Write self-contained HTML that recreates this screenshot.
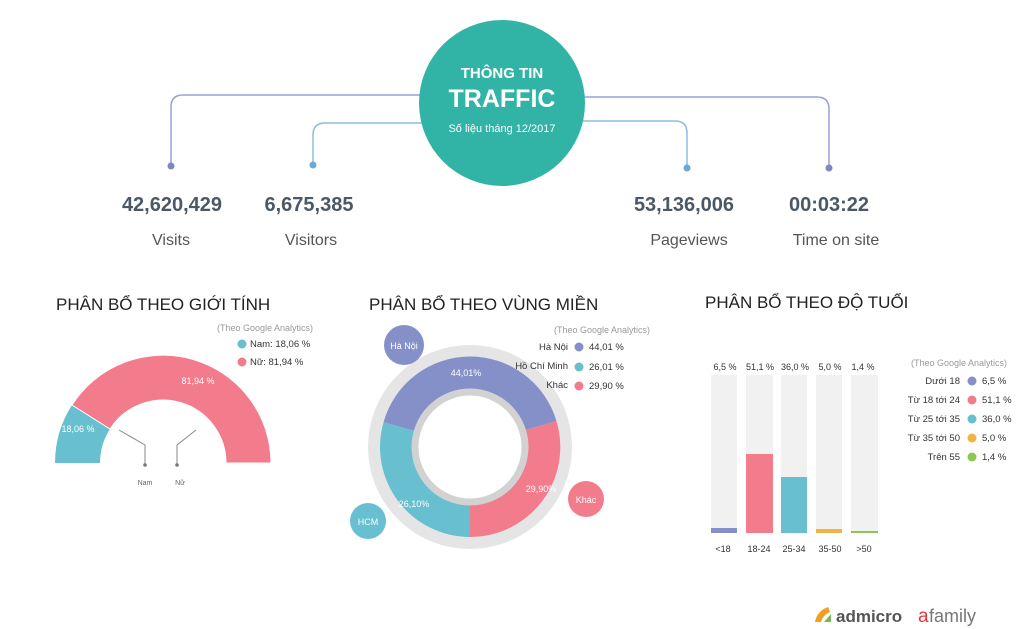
<!DOCTYPE html>
<html><head><meta charset="utf-8"><style>
html,body{margin:0;padding:0;background:#fff}
svg{display:block}
text{font-family:"Liberation Sans","DejaVu Sans",sans-serif}
</style></head><body>
<svg width="1024" height="629" viewBox="0 0 1024 629" xmlns="http://www.w3.org/2000/svg">
<!-- connector lines -->
<g fill="none" stroke-width="1.5">
<path d="M430 95 H183 Q171 95 171 107 V166" stroke="#9aa0d6"/>
<path d="M430 123 H325 Q313 123 313 135 V165" stroke="#8cbde0"/>
<path d="M575 121 H675 Q687 121 687 133 V168" stroke="#8cbde0"/>
<path d="M575 97 H817 Q829 97 829 109 V168" stroke="#9aa0d6"/>
</g>
<circle cx="171" cy="166" r="3.5" fill="#7e86c6"/>
<circle cx="313" cy="165" r="3.5" fill="#6aa9d6"/>
<circle cx="687" cy="168" r="3.5" fill="#6aa9d6"/>
<circle cx="829" cy="168" r="3.5" fill="#7e86c6"/>
<circle cx="502" cy="103" r="83" fill="#31b4a6"/>
<text x="502" y="78" text-anchor="middle" fill="#fff" font-size="15" font-weight="bold">THÔNG TIN</text>
<text x="502" y="107" text-anchor="middle" fill="#fff" font-size="25" font-weight="bold">TRAFFIC</text>
<text x="502" y="132" text-anchor="middle" fill="#fff" font-size="11">Số liệu tháng 12/2017</text>
<g fill="#4b5865" font-size="20" font-weight="bold" text-anchor="middle">
<text x="172" y="211">42,620,429</text>
<text x="309" y="211">6,675,385</text>
<text x="684" y="211">53,136,006</text>
<text x="829" y="211">00:03:22</text>
</g>
<g fill="#555" font-size="16" text-anchor="middle">
<text x="171" y="245">Visits</text>
<text x="311" y="245">Visitors</text>
<text x="689" y="245">Pageviews</text>
<text x="836" y="245">Time on site</text>
</g>
<!-- titles -->
<g fill="#222" font-size="17">
<text x="56" y="310">PHÂN BỔ THEO GIỚI TÍNH</text>
<text x="369" y="310">PHÂN BỔ THEO VÙNG MIỀN</text>
<text x="705" y="308">PHÂN BỔ THEO ĐỘ TUỔI</text>
</g>
<!-- gender gauge -->
<path d="M55 463 A108 108 0 0 1 72 405 L110 429 A63 63 0 0 0 100 463 Z" fill="#67bfcf"/>
<path d="M72 405 A108 108 0 0 1 271 463 L226 463 A63 63 0 0 0 110 429 Z" fill="#f27b8c" stroke="#fff" stroke-width="1"/>
<text x="78" y="432" fill="#fff" font-size="9" text-anchor="middle">18,06 %</text>
<text x="198" y="384" fill="#fff" font-size="9" text-anchor="middle">81,94 %</text>
<g stroke="#888" fill="none" stroke-width="1"><path d="M119 430 L145 445 V464"/><path d="M196 430 L177 445 V464"/></g>
<circle cx="145" cy="465" r="1.8" fill="#777"/><circle cx="177" cy="465" r="1.8" fill="#777"/>
<text x="145" y="485" font-size="7" fill="#666" text-anchor="middle">Nam</text>
<text x="180" y="485" font-size="7" fill="#666" text-anchor="middle">Nữ</text>
<text x="313" y="331" font-size="9" fill="#999" text-anchor="end">(Theo Google Analytics)</text>
<circle cx="242" cy="344" r="4.5" fill="#67bfcf"/><text x="250" y="347" font-size="9.5" fill="#333">Nam: 18,06 %</text>
<circle cx="242" cy="362" r="4.5" fill="#f27b8c"/><text x="250" y="365" font-size="9.5" fill="#333">Nữ:  81,94 %</text>
<!-- donut -->
<circle cx="470" cy="447" r="96" fill="none" stroke="#e5e5e5" stroke-width="12"/>
<path d="M383.5 422.2 A90 90 0 0 1 556.5 421.2 L525.6 430 A58 58 0 0 0 414.3 431 Z" fill="#8590c9"/>
<path d="M556.5 421.2 A90 90 0 0 1 470 537 L470 505 A58 58 0 0 0 525.6 430 Z" fill="#f27b8c"/>
<path d="M470 537 A90 90 0 0 1 383.5 422.2 L414.3 431 A58 58 0 0 0 470 505 Z" fill="#67bfcf"/>
<circle cx="470" cy="447" r="55" fill="none" stroke="#d2d2d2" stroke-width="7"/>
<circle cx="470" cy="447" r="51" fill="#fff"/>
<text x="466" y="376" fill="#fff" font-size="9" text-anchor="middle">44,01%</text>
<text x="541" y="492" fill="#fff" font-size="9" text-anchor="middle">29,90%</text>
<text x="414" y="507" fill="#fff" font-size="9" text-anchor="middle">26,10%</text>
<circle cx="404" cy="345" r="20" fill="#8590c9"/><text x="404" y="349" fill="#fff" font-size="9" text-anchor="middle">Hà Nội</text>
<circle cx="368" cy="521" r="18" fill="#67bfcf"/><text x="368" y="525" fill="#fff" font-size="9" text-anchor="middle">HCM</text>
<circle cx="586" cy="499" r="18" fill="#f27b8c"/><text x="586" y="503" fill="#fff" font-size="9" text-anchor="middle">Khác</text>
<text x="650" y="333" font-size="9" fill="#999" text-anchor="end">(Theo Google Analytics)</text>
<g font-size="9.5" fill="#333">
<text x="568" y="350" text-anchor="end">Hà Nội</text><circle cx="579" cy="347" r="4.5" fill="#8590c9"/><text x="589" y="350">44,01 %</text>
<text x="568" y="369" text-anchor="end">Hồ Chí Minh</text><circle cx="579" cy="367" r="4.5" fill="#67bfcf"/><text x="589" y="370">26,01 %</text>
<text x="568" y="388" text-anchor="end">Khác</text><circle cx="579" cy="386" r="4.5" fill="#f27b8c"/><text x="589" y="389">29,90 %</text>
</g>
<!-- bars -->
<g fill="#f1f1f1">
<rect x="711" y="375" width="26" height="158"/><rect x="746" y="375" width="27" height="158"/>
<rect x="781" y="375" width="26" height="158"/><rect x="816" y="375" width="26" height="158"/>
<rect x="851" y="375" width="27" height="158"/>
</g>
<rect x="711" y="528" width="26" height="5" fill="#8590c9"/>
<rect x="746" y="454" width="27" height="79" fill="#f27b8c"/>
<rect x="781" y="477" width="26" height="56" fill="#67bfcf"/>
<rect x="816" y="529" width="26" height="4" fill="#f0b344"/>
<rect x="851" y="531" width="27" height="2" fill="#8cc751"/>
<g font-size="9" fill="#333" text-anchor="middle">
<text x="725" y="370">6,5 %</text><text x="760" y="370">51,1 %</text><text x="795" y="370">36,0 %</text><text x="830" y="370">5,0 %</text><text x="863" y="370">1,4 %</text>
<text x="723" y="552">&lt;18</text><text x="759" y="552">18-24</text><text x="794" y="552">25-34</text><text x="830" y="552">35-50</text><text x="864" y="552">&gt;50</text>
</g>
<text x="1007" y="366" font-size="9" fill="#999" text-anchor="end">(Theo Google Analytics)</text>
<g font-size="9.5" fill="#333">
<text x="960" y="384" text-anchor="end">Dưới 18</text><circle cx="972" cy="381" r="4.5" fill="#8590c9"/><text x="982" y="384">6,5 %</text>
<text x="960" y="403" text-anchor="end">Từ 18 tới 24</text><circle cx="972" cy="400" r="4.5" fill="#f27b8c"/><text x="982" y="403">51,1 %</text>
<text x="960" y="422" text-anchor="end">Từ 25 tới 35</text><circle cx="972" cy="419" r="4.5" fill="#67bfcf"/><text x="982" y="422">36,0 %</text>
<text x="960" y="441" text-anchor="end">Từ 35 tới 50</text><circle cx="972" cy="438" r="4.5" fill="#f0b344"/><text x="982" y="441">5,0 %</text>
<text x="960" y="460" text-anchor="end">Trên 55</text><circle cx="972" cy="457" r="4.5" fill="#8cc751"/><text x="982" y="460">1,4 %</text>
</g>
<!-- logos -->
<path d="M815 622 Q817 611 828 607 L830 612 Q823 615 821 622 Z" fill="#f0a020"/>
<path d="M824 622 L831 614 L831 622 Z" fill="#7ab648"/>
<text x="836" y="622" font-size="17" font-weight="bold" fill="#555">admicro</text>
<text x="918" y="622" font-size="19" fill="#e03a3e">a</text>
<text x="929" y="622" font-size="18" fill="#777">family</text>
</svg>
</body></html>
